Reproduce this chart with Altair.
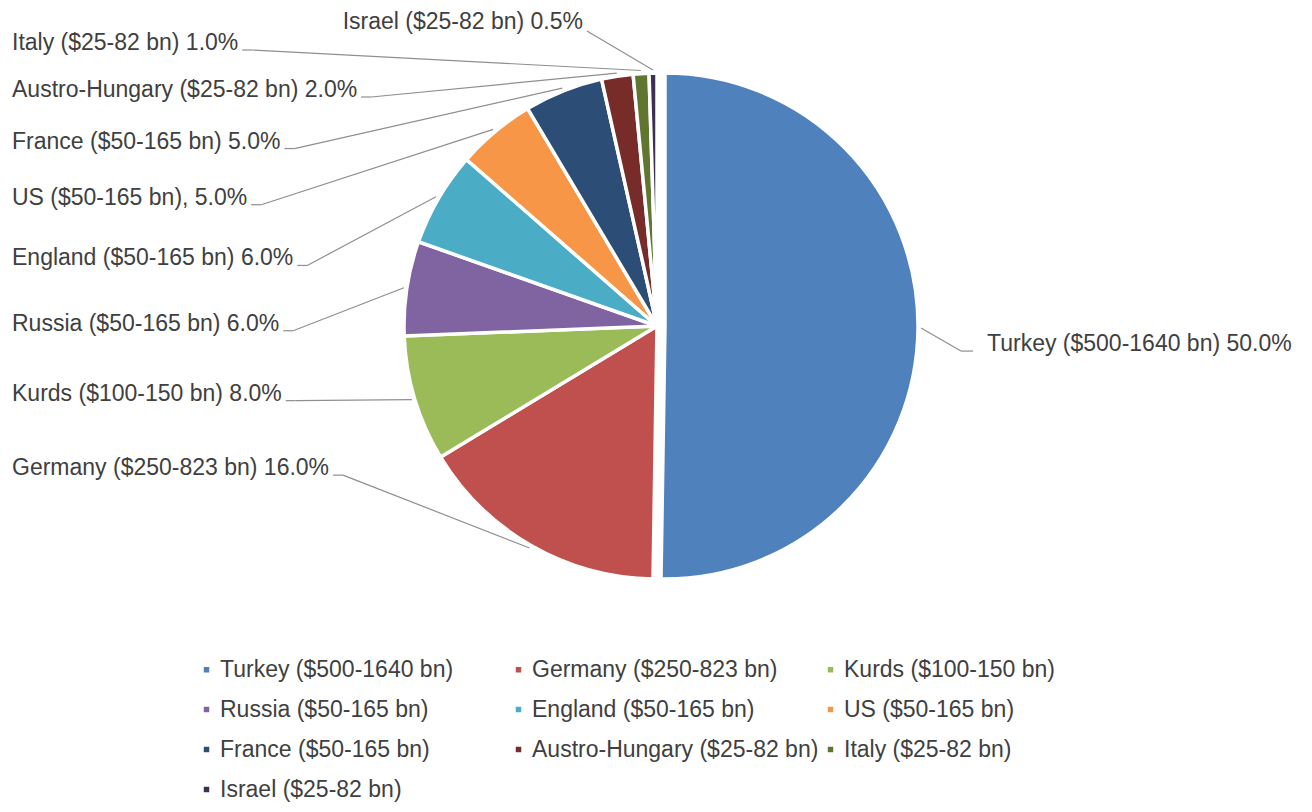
import altair as alt
import pandas as pd

# ---- data ----
names = [
    "Turkey ($500-1640 bn)",
    "Germany ($250-823 bn)",
    "Kurds ($100-150 bn)",
    "Russia ($50-165 bn)",
    "England ($50-165 bn)",
    "US ($50-165 bn)",
    "France ($50-165 bn)",
    "Austro-Hungary ($25-82 bn)",
    "Italy ($25-82 bn)",
    "Israel ($25-82 bn)",
]
shares = [50.0, 16.0, 8.0, 6.0, 6.0, 5.0, 5.0, 2.0, 1.0, 0.5]
seps = [" ", " ", " ", " ", " ", ", ", " ", " ", " ", " "]
colors = ["#4F81BD", "#C0504D", "#9BBB59", "#8064A2", "#4BACC6",
          "#F79646", "#2C4D75", "#772C2A", "#5F7530", "#3B2F52"]

df = pd.DataFrame({"idx": list(range(len(names))), "name": names,
                   "share": shares, "sep": seps})

# ---- layout constants ----
CX, CY, R = 649, 318, 253
FS = 23
FONT = "Liberation Sans"
TXT = "#404040"
LINE = "#8f8f8f"


def cnt(chars):
    return (f"(length(datum.label)-length(replace(datum.label, "
            f"regexp('[{chars}]','g'), '')))")


width_expr = (f"{FS}/1000*(556*length(datum.label)"
              f"-334*{cnt('ijl')}-278*{cnt('It., f')}-223*{cnt('()r-')}"
              f"-56*{cnt('kycsvxzJ')}+333*{cnt('%')}+277*{cnt('m')}+166*{cnt('w')}"
              f"+111*{cnt('AEKSBPV')}+166*{cnt('UHRNDC')}+55*{cnt('TFZ')}+222*{cnt('GOQ')})")

base = (
    alt.Chart(df)
    .transform_window(cum="sum(share)", sort=[alt.SortField("idx")], frame=[None, 0])
    .transform_joinaggregate(total="sum(share)")
    .transform_calculate(
        a0="2*PI*(datum.cum-datum.share)/datum.total",
        a1="2*PI*datum.cum/datum.total",
    )
    .transform_calculate(am="(datum.a0+datum.a1)/2",
                         label="datum.name + datum.sep + format(datum.share, '.1f') + '%'")
    .transform_calculate(explode="datum.idx==0 ? 8 : 0")
    .transform_calculate(
        cx=f"{CX}+datum.explode*sin(datum.am)",
        cy=f"{CY}-datum.explode*cos(datum.am)",
    )
    .transform_calculate(
        ex=f"datum.cx+{R + 3}*sin(datum.am)",
        ey=f"datum.cy-{R + 3}*cos(datum.am)",
        side="datum.am < PI ? 'right' : (datum.am > 2*PI-0.05 ? 'top' : 'left')",
        w=width_expr,
    )
    .transform_window(rk="row_number()", groupby=["side"],
                      sort=[alt.SortField("idx", order="descending")])
    .transform_calculate(r="datum.rk-1")
    .transform_calculate(
        ly="datum.side=='left' ? 35+44.7*datum.r+2.29*datum.r*datum.r : "
           "(datum.side=='right' ? datum.ey+16 : datum.ey-48)",
        lx="datum.side=='left' ? 4 : (datum.side=='right' ? datum.ex+66 : datum.ex-70-datum.w)",
    )
    .transform_calculate(
        l1x="datum.side=='right' ? datum.lx-14 : datum.lx+datum.w+4",
        l1y="datum.side=='top' ? datum.ly+9 : datum.ly+7",
    )
    .transform_calculate(
        l2x="datum.side=='right' ? datum.l1x-12 : (datum.side=='left' ? datum.l1x+10 : datum.l1x)",
        l2y="datum.l1y",
    )
)

legend = alt.Legend(
    orient="none", legendX=187, legendY=650, columns=3, direction="horizontal",
    title=None, padding=0,
    symbolType="square", symbolSize=30, symbolStrokeWidth=0,
    labelFontSize=FS, labelFont=FONT, labelColor=TXT, labelLimit=420,
    rowPadding=16, columnPadding=0, gridAlign="all", labelOffset=2,
)

arcs = base.mark_arc(stroke="white", strokeWidth=3.5).encode(
    x=alt.X("cx:Q", scale=None, axis=None),
    y=alt.Y("cy:Q", scale=None, axis=None),
    theta=alt.Theta("a0:Q", scale=None),
    theta2=alt.Theta2("a1:Q"),
    radius=alt.value(R),
    color=alt.Color("name:N", scale=alt.Scale(domain=names, range=colors),
                    legend=legend),
)

seg1 = base.mark_rule(color=LINE, strokeWidth=1.2).encode(
    x=alt.X("l1x:Q", scale=None, axis=None),
    y=alt.Y("l1y:Q", scale=None, axis=None),
    x2="l2x:Q",
    y2="l2y:Q",
)

seg2 = base.mark_rule(color=LINE, strokeWidth=1.2).encode(
    x=alt.X("l2x:Q", scale=None, axis=None),
    y=alt.Y("l2y:Q", scale=None, axis=None),
    x2="ex:Q",
    y2="ey:Q",
)

texts = base.mark_text(align="left", baseline="middle", fontSize=FS,
                       font=FONT, color=TXT).encode(
    x=alt.X("lx:Q", scale=None, axis=None),
    y=alt.Y("ly:Q", scale=None, axis=None),
    text="label:N",
)

chart = (
    alt.layer(arcs, seg1, seg2, texts)
    .properties(width=1296, height=796, autosize="none", padding=0)
    .configure_view(stroke=None)
)

chart.save("out.html", embed_options={"renderer": "svg", "actions": False})
